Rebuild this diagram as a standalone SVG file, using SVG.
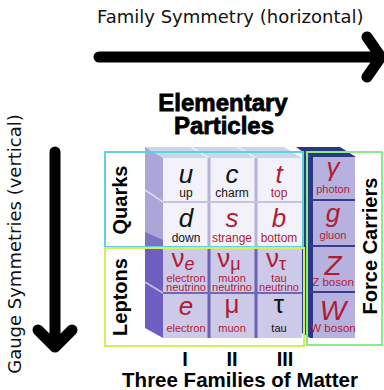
<svg xmlns="http://www.w3.org/2000/svg" width="384" height="390" viewBox="0 0 384 390">
<style>
.axis{font-family:"DejaVu Sans",sans-serif;font-size:18px;fill:#111}
.arrow{fill:none;stroke:#000;stroke-width:11;stroke-linecap:round;stroke-linejoin:round}
.title{font-family:"Liberation Sans",Arial,sans-serif;font-weight:bold;font-size:24px;fill:#000;stroke:#000;stroke-width:0.8;text-anchor:middle}
.grp{font-family:"Liberation Sans",Arial,sans-serif;font-weight:bold;font-size:20px;fill:#000;text-anchor:middle}
.sym{font-family:"Liberation Sans",Arial,sans-serif;font-style:italic;font-size:26px;text-anchor:middle}
.name{font-family:"Liberation Sans",Arial,sans-serif;font-size:12px;text-anchor:middle}
.lname{font-family:"Liberation Sans",Arial,sans-serif;font-size:11px;text-anchor:middle}
.blk{fill:#111}
.red{fill:#b01c34}
.roman{font-family:"Liberation Sans",Arial,sans-serif;font-weight:bold;font-size:20px;text-anchor:middle}
.bottom{font-family:"Liberation Sans",Arial,sans-serif;font-weight:bold;font-size:20.5px;fill:#000;text-anchor:middle}
.qcell{fill:#f3f1f9}
.lcell{fill:#cdc9e9}
.fcell{fill:#b7b1df}
</style>

<g id="family-axis">
<text class="axis" x="97" y="23">Family Symmetry (horizontal)</text>
<path class="arrow" d="M99,57 H379 M367,37 L381,57 L367,77"/>
</g>

<g id="gauge-axis">
<text class="axis" transform="translate(21,244) rotate(-90)" text-anchor="middle">Gauge Symmetries (vertical)</text>
<path class="arrow" d="M55,152 V344 M38,330 L55,347 L72,330"/>
</g>

<g id="title">
<text class="title" x="223" y="111">Elementary</text>
<text class="title" x="224" y="134">Particles</text>
</g>

<g id="block">
<polygon points="145,147 284,147 302,158 163,158" fill="#c8d8e8"/>
<path d="M191,147 L209,158 M238,147 L256,158" stroke="#e6eef6" stroke-width="1.5"/>
<polygon points="145,147 163,158 163,248 145,248" fill="#aaa6d8"/>
<polygon points="145,232 163,240 163,248 145,248" fill="#7c72c4"/>
<path d="M145,190 L163,202" stroke="#e8e6f6" stroke-width="1.5"/>
<polygon points="145,248 163,248 163,338 145,328" fill="#6e5ec2"/>
<path d="M145,282 L163,293" stroke="#c8c2ee" stroke-width="1.5"/>
<rect class="qcell" x="163" y="158" width="139" height="90"/>
<path d="M209,158 V248 M256,158 V248" stroke="#b6b2da" stroke-width="3"/>
<path d="M163,202 H302" stroke="#c6c2e2" stroke-width="2"/>
<rect class="lcell" x="163" y="248" width="139" height="90"/>
<path d="M209,248 V338 M256,248 V338" stroke="#6a62b2" stroke-width="3"/>
<path d="M163,293 H302" stroke="#7068b8" stroke-width="2"/>
<polygon points="296,147 340,147 356,157 310,157" fill="#283a7c"/>
<polygon points="302,151 310,157 310,338 302,333" fill="#24407a"/>
<rect class="fcell" x="310" y="157" width="45" height="181"/>
<rect x="310" y="157" width="3" height="181" fill="#2c3488"/>
<path d="M310,200 H355 M310,246 H355 M310,292 H355" stroke="#3a3c92" stroke-width="2"/>
</g>

<g id="quarks">
<rect x="105" y="152" width="198" height="95" fill="none" stroke="#5fd0de" stroke-width="2"/>
<text class="grp" transform="translate(127,200) rotate(-90)">Quarks</text>
</g>

<g id="leptons">
<rect x="105" y="248" width="199" height="98" fill="none" stroke="#d8ec5a" stroke-width="2"/>
<text class="grp" transform="translate(127,297) rotate(-90)">Leptons</text>
</g>

<g id="force-carriers">
<rect x="307" y="152" width="75" height="193" fill="none" stroke="#8ee88e" stroke-width="2"/>
<text class="grp" transform="translate(377,246) rotate(-90)">Force Carriers</text>
</g>

<g id="up"><text class="sym blk" x="186" y="183">u</text><text class="name blk" x="186" y="197">up</text></g>
<g id="charm"><text class="sym blk" x="232" y="183">c</text><text class="name blk" x="232" y="197">charm</text></g>
<g id="top"><text class="sym red" x="279" y="183">t</text><text class="name red" x="279" y="197">top</text></g>
<g id="down"><text class="sym blk" x="186" y="227">d</text><text class="name blk" x="186" y="242">down</text></g>
<g id="strange"><text class="sym red" x="232" y="227">s</text><text class="name red" x="232" y="242">strange</text></g>
<g id="bottom"><text class="sym red" x="279" y="227">b</text><text class="name red" x="279" y="242">bottom</text></g>

<g id="electron-neutrino"><text class="sym red" x="183" y="267" style="font-style:normal">ν<tspan font-size="18" font-style="italic" dy="3">e</tspan></text><text class="lname red" x="186" y="282">electron</text><text class="lname red" x="186" y="291">neutrino</text></g>
<g id="muon-neutrino"><text class="sym red" x="229" y="267" style="font-style:normal">ν<tspan font-size="18" dy="3">μ</tspan></text><text class="lname red" x="232" y="282">muon</text><text class="lname red" x="232" y="291">neutrino</text></g>
<g id="tau-neutrino"><text class="sym red" x="276" y="267" style="font-style:normal">ν<tspan font-size="18" dy="3">τ</tspan></text><text class="lname red" x="279" y="282">tau</text><text class="lname red" x="279" y="291">neutrino</text></g>
<g id="electron"><text class="sym red" x="186" y="315">e</text><text class="lname red" x="186" y="332">electron</text></g>
<g id="muon"><text class="sym red" x="232" y="313" style="font-style:normal">μ</text><text class="lname red" x="232" y="332">muon</text></g>
<g id="tau"><text class="sym blk" x="279" y="313" style="font-style:normal">τ</text><text class="lname blk" x="279" y="332">tau</text></g>

<g id="photon"><text class="sym red" x="333" y="176">γ</text><text class="lname red" x="333" y="193">photon</text></g>
<g id="gluon"><text class="sym red" x="333" y="222">g</text><text class="lname red" x="333" y="239">gluon</text></g>
<g id="z-boson"><text class="sym red" x="333" y="275" style="font-size:28px">Z</text><text class="lname red" x="333" y="286" style="font-size:11.5px">Z boson</text></g>
<g id="w-boson"><text class="sym red" x="333" y="320" style="font-size:28px">W</text><text class="lname red" x="333" y="332" style="font-size:11.5px">W boson</text></g>

<g id="families">
<text class="roman" x="185" y="366">I</text>
<text class="roman" x="232" y="366">II</text>
<text class="roman" x="285" y="366">III</text>
<text class="bottom" x="240" y="387">Three Families of Matter</text>
</g>
</svg>
